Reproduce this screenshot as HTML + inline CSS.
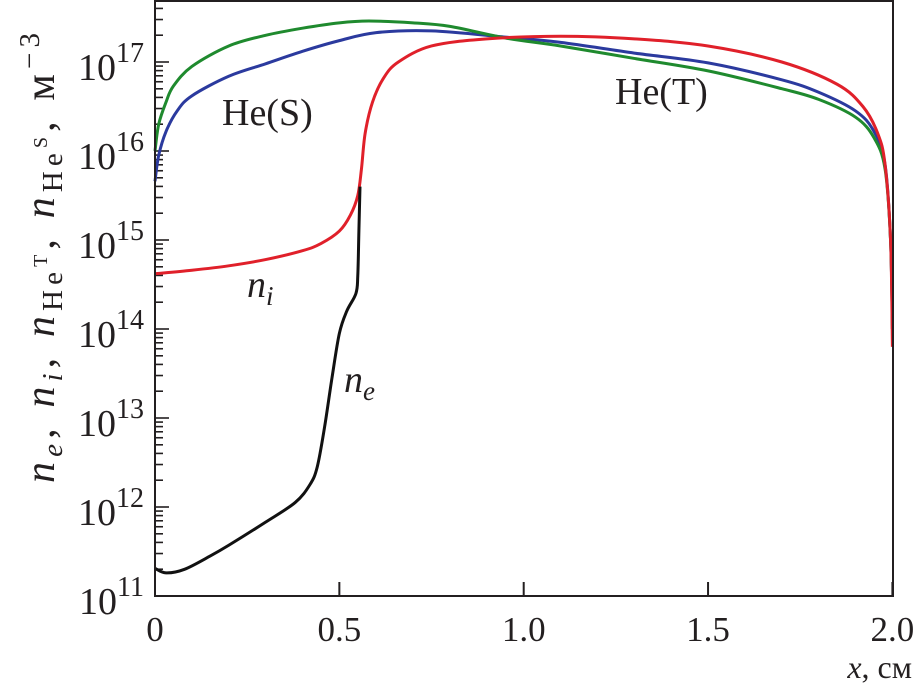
<!DOCTYPE html>
<html><head><meta charset="utf-8"><style>
body{margin:0;background:#fff;}
svg, svg text{font-family:"Liberation Serif","DejaVu Serif",serif;}
</style></head><body>
<svg id="chart" width="918" height="693" viewBox="0 0 918 693" xmlns="http://www.w3.org/2000/svg" font-family="Liberation Serif, DejaVu Serif, serif">
<g id="ticks"></g>
<g id="series"></g>
<rect x="155" y="1" width="738" height="595" fill="none" stroke="#231f20" stroke-width="2"/>
<text x="222" y="125" font-size="38" fill="#231f20">He(S)</text>
<text x="615" y="104" font-size="38" fill="#231f20">He(T)</text>
<text x="247" y="297" font-size="38" font-style="italic" fill="#231f20">n<tspan font-size="27" dy="8">i</tspan></text>
<text x="344" y="392" font-size="38" font-style="italic" fill="#231f20">n<tspan font-size="27" dy="8">e</tspan></text>
<text x="912" y="678" font-size="32" text-anchor="end" fill="#231f20"><tspan font-style="italic">x</tspan>, см</text>
<text transform="translate(54,258) rotate(-90)" font-size="42" text-anchor="middle" textLength="450" lengthAdjust="spacing" fill="#231f20"><tspan font-style="italic">n</tspan><tspan font-size="29" font-style="italic" dy="8">e</tspan><tspan dy="-8">, </tspan><tspan font-style="italic">n</tspan><tspan font-size="29" font-style="italic" dy="8">i</tspan><tspan dy="-8">, </tspan><tspan font-style="italic">n</tspan><tspan font-size="29" dy="8">He</tspan><tspan font-size="20" dy="-15">T</tspan><tspan dy="7">, </tspan><tspan font-style="italic">n</tspan><tspan font-size="29" dy="8">He</tspan><tspan font-size="20" dy="-15">S</tspan><tspan dy="7">, м</tspan><tspan font-size="29" dy="-15">−3</tspan></text>
</svg>
<script>
const xTicks=[0,0.5,1.0,1.5,2.0];
const xTickLabels=["0","0.5","1.0","1.5","2.0"];
const yDecades=[11,12,13,14,15,16,17];
const heSx=[0,0.01,0.03,0.05,0.1,0.2,0.3,0.4,0.5,0.58,0.7,0.8,0.95,1.1,1.3,1.5,1.7,1.8,1.9,1.95,1.98,1.995,2.0];
const heSy=[16.0,16.3,16.55,16.73,16.95,17.18,17.3,17.38,17.44,17.46,17.44,17.4,17.27,17.18,17.04,16.9,16.7,16.58,16.38,16.15,15.8,15.0,14.0];
const heTx=[0,0.01,0.03,0.06,0.1,0.2,0.3,0.4,0.5,0.6,0.75,0.95,1.1,1.3,1.5,1.7,1.8,1.9,1.95,1.98,1.995,2.0];
const heTy=[15.66,15.95,16.22,16.45,16.62,16.84,16.98,17.12,17.24,17.33,17.35,17.28,17.22,17.1,16.99,16.8,16.66,16.45,16.22,15.85,15.0,14.0];
const niX=[0,0.1,0.2,0.3,0.4,0.45,0.5,0.53,0.55,0.56,0.57,0.59,0.62,0.66,0.75,0.9,1.1,1.3,1.5,1.7,1.85,1.92,1.96,1.98,1.995,2.0];
const niY=[14.62,14.66,14.71,14.78,14.88,14.96,15.1,15.28,15.5,15.8,16.2,16.55,16.82,17.0,17.18,17.26,17.29,17.26,17.18,17.0,16.75,16.5,16.2,15.85,15.0,13.8];
const neX=[0,0.03,0.08,0.15,0.2,0.3,0.38,0.42,0.44,0.46,0.48,0.5,0.52,0.545,0.55,0.553,0.556];
const neY=[11.31,11.26,11.3,11.45,11.57,11.83,12.05,12.25,12.45,12.9,13.45,13.95,14.2,14.4,14.6,15.1,15.6];
const X=v=>155+v*368.7;
const Y=v=>596-(v-11)*89;
const NS="http://www.w3.org/2000/svg";
const tg=document.getElementById('ticks'),sg=document.getElementById('series');
function mk(tag,attrs,parent){const e=document.createElementNS(NS,tag);for(const k in attrs)e.setAttribute(k,attrs[k]);parent.appendChild(e);return e;}
xTicks.forEach((t,i)=>{
  const l=mk('line',{x1:X(t),x2:X(t),y1:596,y2:582,stroke:'#231f20','stroke-width':2},tg);
  
  
  const tx=mk('text',{x:X(t),y:641,'font-size':35,'text-anchor':'middle',fill:'#231f20'},tg);
  tx.textContent=xTickLabels[i];
  
  
});
yDecades.forEach(d=>{
  for(let m=1;m<=9;m++){
    const v=d+Math.log10(m);
    if(Y(v)<1)continue;
    const l=mk('line',{x1:155,x2:155+(m==1?14:8),y1:Y(v),y2:Y(v),stroke:'#231f20','stroke-width':1.6},tg);
    
    
  }
  const t=mk('text',{x:144,y:Y(d)+18,'font-size':38,'text-anchor':'end',fill:'#231f20'},tg);
  t.innerHTML='10<tspan font-size="28" dy="-18">'+d+'</tspan>';
  
  
});
function path(xs,ys){
  const p=xs.map((x,i)=>[X(x),Y(ys[i])]);
  let d='M'+p[0][0]+','+p[0][1];
  for(let i=0;i<p.length-1;i++){
    const p0=p[i-1]||p[i],p1=p[i],p2=p[i+1],p3=p[i+2]||p2;
    const c1=[p1[0]+(p2[0]-p0[0])/6,p1[1]+(p2[1]-p0[1])/6];
    const c2=[p2[0]-(p3[0]-p1[0])/6,p2[1]-(p3[1]-p1[1])/6];
    d+=' C'+c1+' '+c2+' '+p2;
  }
  return d;
}
[[heTx,heTy,'#2b3a9e','series-he-t'],[heSx,heSy,'#1f8a2e','series-he-s'],[niX,niY,'#e0202a','series-ni'],[neX,neY,'#111','series-ne']].forEach(s=>{
  const e=mk('path',{d:path(s[0],s[1]),fill:'none',stroke:s[2],'stroke-width':3},sg);
  
  
});
</script>
</body></html>
